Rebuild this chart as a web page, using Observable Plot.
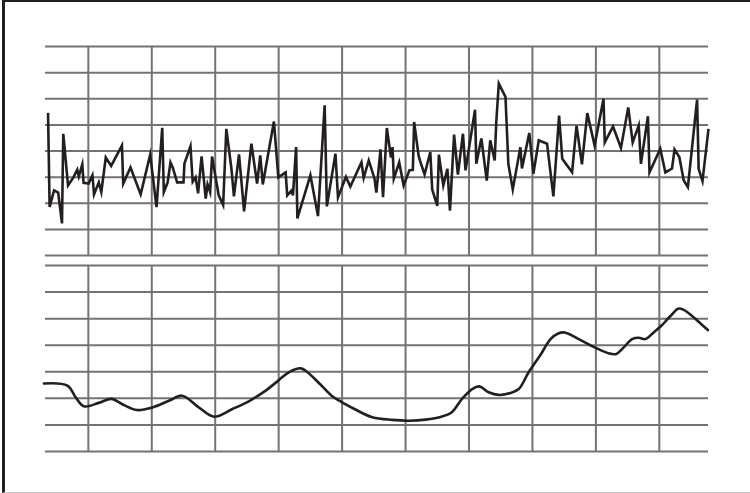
<!DOCTYPE html>
<html>
<head>
<meta charset="utf-8">
<script src="https://cdn.jsdelivr.net/npm/d3@7"></script>
<script src="https://cdn.jsdelivr.net/npm/@observablehq/plot@0.6"></script>
<style>
  html, body { margin: 0; padding: 0; background: #fff; }
  #wrap { position: relative; width: 750px; height: 493px; overflow: hidden; }
  #frame { position: absolute; left: 2px; top: 0; width: 800px; height: 493px; box-sizing: border-box;
           border-left: 3px solid #231f20; border-top: 2px solid #231f20; border-bottom: 1px solid #c8c8c8; pointer-events: none; }
  #wrap svg { display: block; }
</style>
</head>
<body>
<div id="wrap"><div id="frame"></div><div id="charts"></div></div>
<script>
// ---- data ----
const xDomain = [6.5, 215.5];
const xGrid = [20, 40, 60, 80, 100, 120, 140, 160, 180, 200];
const topGrid = [0, 1, 2, 3, 4, 5, 6, 7, 8];
const bottomGrid = [0, 1, 2, 3, 4, 5, 6, 7];

// top panel: noisy series (x index, value)
const topX = [7.3, 7.8, 9.2, 10.5, 11.7, 12.1, 13.6, 15.3, 16.5, 17.0, 18.1, 18.5, 20.1, 21.3, 21.8, 23.3, 24.1, 25.5, 27.2, 30.6,
  31.0, 33.3, 36.5, 39.5, 41.5, 43.3, 43.8, 45.0, 45.9, 46.6, 48.0, 50.0, 50.3, 52.2, 52.9, 53.8, 54.6, 55.7, 57.0, 57.6,
  58.4, 59.0, 61.1, 62.5, 63.5, 65.1, 65.9, 67.5, 69.1, 71.4, 73.2, 74.2, 75.0, 78.5, 79.9, 82.2, 82.7, 84.1, 84.5, 85.5,
  85.9, 90.0, 92.4, 94.5, 95.2, 97.9, 98.7, 101.2, 102.6, 106.1, 106.8, 108.4, 110.2, 110.8, 112.1, 112.9, 114.1, 115.4, 115.9, 116.3,
  118.0, 119.4, 121.2, 122.3, 122.7, 124.1, 124.7, 126.0, 127.8, 128.4, 130.0, 130.5, 131.9, 133.2, 134.0, 135.3, 136.5, 138.1, 138.9, 141.9,
  142.3, 143.9, 145.6, 146.7, 148.1, 148.6, 149.4, 151.5, 152.4, 153.8, 156.2, 156.7, 159.0, 160.3, 162.0, 164.6, 166.6, 168.4, 169.4, 172.5,
  173.9, 175.6, 177.3, 179.6, 182.4, 182.8, 185.4, 187.9, 190.2, 191.6, 193.5, 194.2, 196.4, 196.9, 200.3, 201.9, 204.0, 204.8, 206.3, 207.7,
  209.0, 211.9, 212.4, 213.6, 215.5];
const topY = [5.46, 1.86, 2.49, 2.41, 1.23, 4.66, 2.68, 2.99, 3.28, 3.03, 3.49, 2.78, 2.75, 3.07, 2.34, 2.80, 2.43, 3.75, 3.43, 4.21,
  2.75, 3.37, 2.34, 3.86, 1.85, 4.89, 2.43, 2.80, 3.56, 3.37, 2.80, 2.80, 3.52, 4.18, 2.82, 2.99, 2.38, 3.79, 2.18, 2.72,
  2.43, 3.79, 2.30, 1.93, 4.85, 3.33, 2.26, 3.87, 1.69, 4.28, 2.75, 3.83, 2.72, 5.13, 2.99, 3.18, 2.30, 2.49, 2.30, 4.15,
  1.42, 3.07, 1.51, 5.75, 1.88, 3.90, 2.22, 3.01, 2.64, 3.57, 2.97, 3.64, 2.95, 2.41, 4.06, 2.23, 4.88, 3.75, 4.15, 2.94,
  3.56, 2.68, 3.26, 3.28, 5.11, 3.83, 3.57, 3.10, 3.96, 2.53, 1.90, 3.86, 2.68, 3.32, 1.72, 4.63, 3.10, 4.66, 3.26, 5.58,
  3.51, 4.48, 2.87, 4.41, 3.64, 5.11, 6.58, 6.07, 3.51, 2.53, 4.14, 3.33, 4.69, 3.13, 4.41, 4.28, 2.26, 5.36, 3.70, 3.19,
  4.97, 3.49, 5.45, 4.21, 6.00, 4.33, 4.94, 4.12, 5.67, 4.33, 4.98, 3.51, 5.33, 3.18, 4.09, 3.18, 3.33, 4.06, 3.77, 2.87,
  2.62, 5.97, 3.32, 2.85, 4.85];

// bottom panel: smoothed series (x index, value)
const bottomX = [6.0, 13.4, 16.0, 18.6, 23.3, 27.3, 31.2, 35.4, 40.2, 45.4, 49.6, 54.8, 59.6, 65.4, 70.6, 75.9, 79.5, 83.2, 86.9, 88.5,
  92.7, 96.9, 100.0, 104.2, 109.5, 115.8, 121.0, 126.3, 131.5, 134.5, 137.8, 141.0, 143.3, 146.2, 149.4, 153.1, 155.7, 158.8, 162.5, 165.7,
  168.1, 170.2, 174.6, 179.8, 184.0, 186.4, 188.7, 191.4, 193.5, 195.6, 198.2, 200.8, 203.5, 206.1, 207.7, 210.3, 212.9, 215.3];
const bottomY = [2.56, 2.48, 2.04, 1.70, 1.83, 1.98, 1.75, 1.56, 1.66, 1.91, 2.10, 1.66, 1.31, 1.60, 1.89, 2.29, 2.63, 2.98, 3.13, 3.04,
  2.58, 2.08, 1.85, 1.58, 1.29, 1.19, 1.16, 1.20, 1.32, 1.47, 1.98, 2.35, 2.45, 2.23, 2.13, 2.20, 2.35, 2.98, 3.63, 4.23,
  4.44, 4.48, 4.23, 3.91, 3.70, 3.67, 3.91, 4.23, 4.28, 4.23, 4.48, 4.75, 5.10, 5.38, 5.33, 5.10, 4.83, 4.57];

// ---- build tables ----
const topData = topX.map((x, i) => ({x, y: topY[i]}));
const bottomData = bottomX.map((x, i) => ({x, y: bottomY[i]}));

const gridColor = "#737373";
const inkColor = "#231f20";

const topPlot = Plot.plot({
  width: 750, height: 260,
  marginTop: 46, marginBottom: 5, marginLeft: 45, marginRight: 42,
  x: {domain: xDomain, axis: null},
  y: {domain: [0, 8], axis: null},
  marks: [
    Plot.ruleY(topGrid, {stroke: gridColor, strokeWidth: 2}),
    Plot.ruleX(xGrid, {stroke: gridColor, strokeWidth: 2}),
    Plot.line(topData, {x: "x", y: "y", stroke: inkColor, strokeWidth: 2.6, strokeLinejoin: "miter", strokeMiterlimit: 6, strokeLinecap: "butt"})
  ]
});

const bottomPlot = Plot.plot({
  width: 750, height: 233,
  marginTop: 5, marginBottom: 42, marginLeft: 45, marginRight: 42,
  x: {domain: xDomain, axis: null},
  y: {domain: [0, 7], axis: null},
  marks: [
    Plot.ruleY(bottomGrid, {stroke: gridColor, strokeWidth: 2}),
    Plot.ruleX(xGrid, {stroke: gridColor, strokeWidth: 2}),
    Plot.line(bottomData, {x: "x", y: "y", stroke: inkColor, strokeWidth: 2.6, curve: "catmull-rom"})
  ]
});

const charts = document.getElementById("charts");
charts.appendChild(topPlot);
charts.appendChild(bottomPlot);
</script>
</body>
</html>
